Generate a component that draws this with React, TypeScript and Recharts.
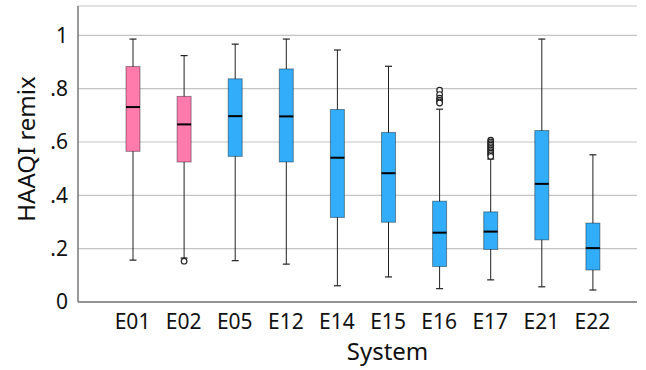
import { BarChart, Bar, XAxis, YAxis, CartesianGrid, Label } from 'recharts'

const systems = ['E01', 'E02', 'E05', 'E12', 'E14', 'E15', 'E16', 'E17', 'E21', 'E22']
const whiskerLow = [0.157, 0.165, 0.155, 0.142, 0.061, 0.094, 0.05, 0.083, 0.057, 0.045]
const q1 = [0.565, 0.525, 0.546, 0.525, 0.317, 0.299, 0.133, 0.197, 0.233, 0.12]
const median = [0.731, 0.666, 0.697, 0.696, 0.541, 0.483, 0.26, 0.264, 0.443, 0.202]
const q3 = [0.883, 0.771, 0.837, 0.874, 0.722, 0.636, 0.378, 0.338, 0.643, 0.296]
const whiskerHigh = [0.986, 0.924, 0.967, 0.986, 0.945, 0.884, 0.723, 0.536, 0.986, 0.552]
const outliers = [
  [],
  [0.153],
  [],
  [],
  [],
  [],
  [0.794, 0.778, 0.764, 0.757, 0.75, 0.746],
  [0.607, 0.6, 0.594, 0.588, 0.582, 0.576, 0.57, 0.564, 0.558, 0.552, 0.546],
  [],
  [],
]
const yTicks = [0, 0.2, 0.4, 0.6, 0.8, 1]
const yTickLabels = ['0', '.2', '.4', '.6', '.8', '1']

const pinkSystems = ['E01', 'E02']
const FONT = '"Noto Sans", "Open Sans", sans-serif'

const data = systems.map((system, i) => ({
  system,
  range: [whiskerLow[i], whiskerHigh[i]],
  q1: q1[i],
  median: median[i],
  q3: q3[i],
  outliers: outliers[i],
}))

function BoxShape(props: any) {
  const { x, y, width, height, payload } = props
  const [lo, hi] = payload.range
  const k = height / (hi - lo)
  const py = (v: number) => y + (hi - v) * k
  const cx = x + width / 2
  const fill = pinkSystems.includes(payload.system) ? '#FF7BAC' : '#31ADFA'
  return (
    <g>
      <line x1={cx} x2={cx} y1={py(hi)} y2={py(lo)} stroke="#222" strokeWidth={1} />
      <line x1={cx - 3.5} x2={cx + 3.5} y1={py(hi)} y2={py(hi)} stroke="#222" strokeWidth={1.2} />
      <line x1={cx - 3.5} x2={cx + 3.5} y1={py(lo)} y2={py(lo)} stroke="#222" strokeWidth={1.2} />
      <rect
        x={x}
        y={py(payload.q3)}
        width={width}
        height={py(payload.q1) - py(payload.q3)}
        fill={fill}
        stroke="rgba(0,0,0,0.4)"
        strokeWidth={1}
      />
      <line x1={x} x2={x + width} y1={py(payload.median)} y2={py(payload.median)} stroke="#000" strokeWidth={2} />
      {payload.outliers.map((v: number, j: number) => (
        <circle key={j} cx={cx} cy={py(v)} r={2.8} fill="#fff" stroke="#222" strokeWidth={1.2} />
      ))}
    </g>
  )
}

export default function App() {
  return (
    <div style={{ position: 'absolute', left: 0, top: 0 }}>
      <BarChart width={646} height={370} data={data} margin={{ top: 6, right: 9, bottom: 0, left: 0 }}>
        <CartesianGrid vertical={false} stroke="#c4c4c4" strokeWidth={1.2} />
        <XAxis
          dataKey="system"
          height={68}
          padding={{ left: 29, right: 19 }}
          tickLine={false}
          tickSize={0}
          tickMargin={12}
          axisLine={{ stroke: '#777', strokeWidth: 1.5 }}
          tick={{ fontFamily: FONT, fontSize: 21, fill: '#111' }}
          interval={0}
        >
          <Label
            content={({ viewBox }: any) => (
              <text
                x={viewBox.x + viewBox.width / 2 + 30}
                y={viewBox.y + 58}
                textAnchor="middle"
                fontFamily={FONT}
                fontSize={24}
                fill="#111"
              >
                System
              </text>
            )}
          />
        </XAxis>
        <YAxis
          width={78}
          domain={[0, 1.11]}
          ticks={yTicks}
          tickFormatter={(v: number) => yTickLabels[yTicks.indexOf(v)] ?? String(v)}
          tickLine={false}
          tickSize={0}
          tickMargin={10}
          axisLine={{ stroke: '#777', strokeWidth: 1.5 }}
          tick={{ fontFamily: FONT, fontSize: 21, fill: '#111' }}
        >
          <Label
            content={({ viewBox }: any) => (
              <text
                transform={`translate(${viewBox.x + 35}, ${viewBox.y + viewBox.height / 2 - 5}) rotate(-90)`}
                textAnchor="middle"
                fontFamily={FONT}
                fontSize={24}
                fill="#111"
              >
                HAAQI remix
              </text>
            )}
          />
        </YAxis>
        <Bar dataKey="range" barSize={14} shape={BoxShape} isAnimationActive={false} />
      </BarChart>
    </div>
  )
}
